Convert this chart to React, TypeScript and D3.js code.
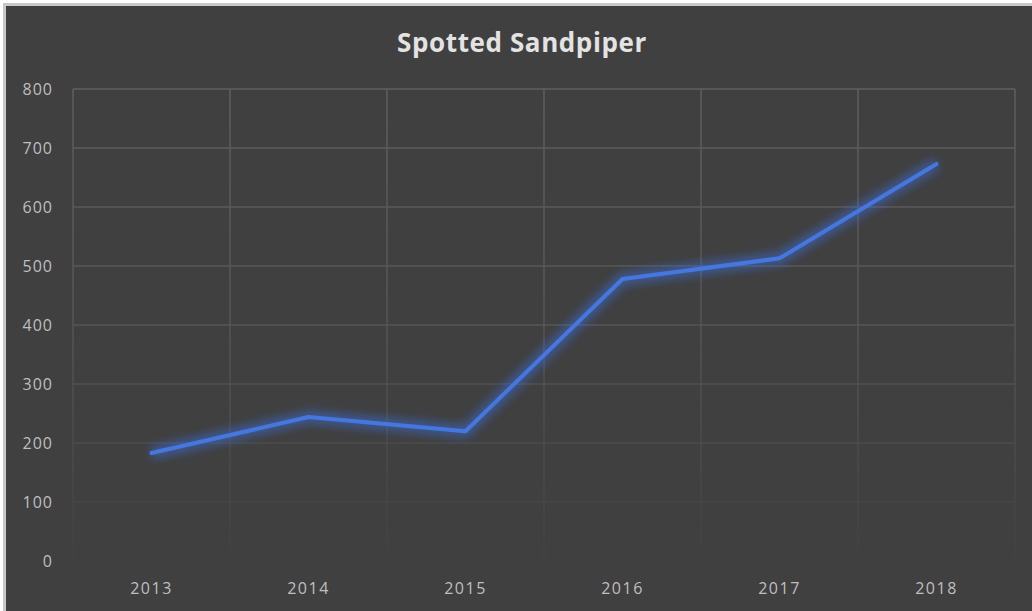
import React from "react";
import * as d3 from "d3";

const years = ["2013", "2014", "2015", "2016", "2017", "2018"];
const counts = [183, 244, 220, 478, 513, 673];
const yTicks = [0, 100, 200, 300, 400, 500, 600, 700, 800];
const title = "Spotted Sandpiper";

const W = 1032;
const H = 611;
const plot = { left: 73, right: 1015, top: 89, bottom: 561 };

export default function App() {
  const x = d3.scaleBand<string>().domain(years).range([plot.left, plot.right]).padding(0);
  const y = d3.scaleLinear().domain([0, 800]).range([plot.bottom, plot.top]);
  const line = d3
    .line<number>()
    .x((_, i) => (x(years[i]) as number) + x.bandwidth() / 2)
    .y((d) => y(d));
  const path = line(counts) || "";
  const boundaries = years.map((yr) => x(yr) as number).concat([plot.right]);
  const font = "'Open Sans', 'Noto Sans', sans-serif";

  return (
    <svg
      width={W}
      height={H}
      style={{ position: "absolute", left: 0, top: 0, display: "block" }}
    >
      <defs>
        <linearGradient id="gridFade" gradientUnits="userSpaceOnUse" x1="0" y1={plot.top} x2="0" y2={plot.bottom}>
          <stop offset="0" stopColor="#5e5e5e" />
          <stop offset="0.5" stopColor="#555555" />
          <stop offset="0.85" stopColor="#474747" />
          <stop offset="1" stopColor="#414141" />
        </linearGradient>
        <filter id="glow" x="-20%" y="-20%" width="140%" height="140%">
          <feGaussianBlur stdDeviation="5" />
        </filter>
      </defs>
      <rect x={0} y={0} width={W} height={H} fill="#ffffff" />
      <rect x={3} y={3} width={W - 3} height={H - 3} fill="#c8c8c8" />
      <rect x={6} y={6} width={W - 6} height={H - 6} fill="#404040" />
      <text
        x={522}
        y={52}
        textAnchor="middle"
        fill="#e3e3e3"
        fontFamily={font}
        fontWeight={700}
        fontSize={26}
        letterSpacing={0.6}
      >
        {title}
      </text>
      {yTicks.map((t) => (
        <line
          key={"h" + t}
          x1={plot.left}
          x2={plot.right}
          y1={y(t)}
          y2={y(t)}
          stroke="url(#gridFade)"
          strokeWidth={1.5}
        />
      ))}
      {boundaries.map((b, i) => (
        <line
          key={"v" + i}
          x1={b}
          x2={b}
          y1={plot.top}
          y2={plot.bottom}
          stroke="url(#gridFade)"
          strokeWidth={1.5}
        />
      ))}
      {yTicks.map((t) => (
        <text
          key={"yl" + t}
          x={53}
          y={y(t) + 6}
          textAnchor="end"
          fill="#bfbfbf"
          fontFamily={font}
          fontSize={16}
          letterSpacing={1}
        >
          {t}
        </text>
      ))}
      {years.map((yr) => (
        <text
          key={"xl" + yr}
          x={(x(yr) as number) + x.bandwidth() / 2}
          y={594}
          textAnchor="middle"
          fill="#bfbfbf"
          fontFamily={font}
          fontSize={16}
          letterSpacing={1.5}
        >
          {yr}
        </text>
      ))}
      <path d={path} fill="none" stroke="#3a6fe0" strokeOpacity={0.55} strokeWidth={12} strokeLinejoin="round" filter="url(#glow)" />
      <path d={path} fill="none" stroke="#4577de" strokeWidth={4} strokeLinejoin="round" strokeLinecap="round" />
    </svg>
  );
}
